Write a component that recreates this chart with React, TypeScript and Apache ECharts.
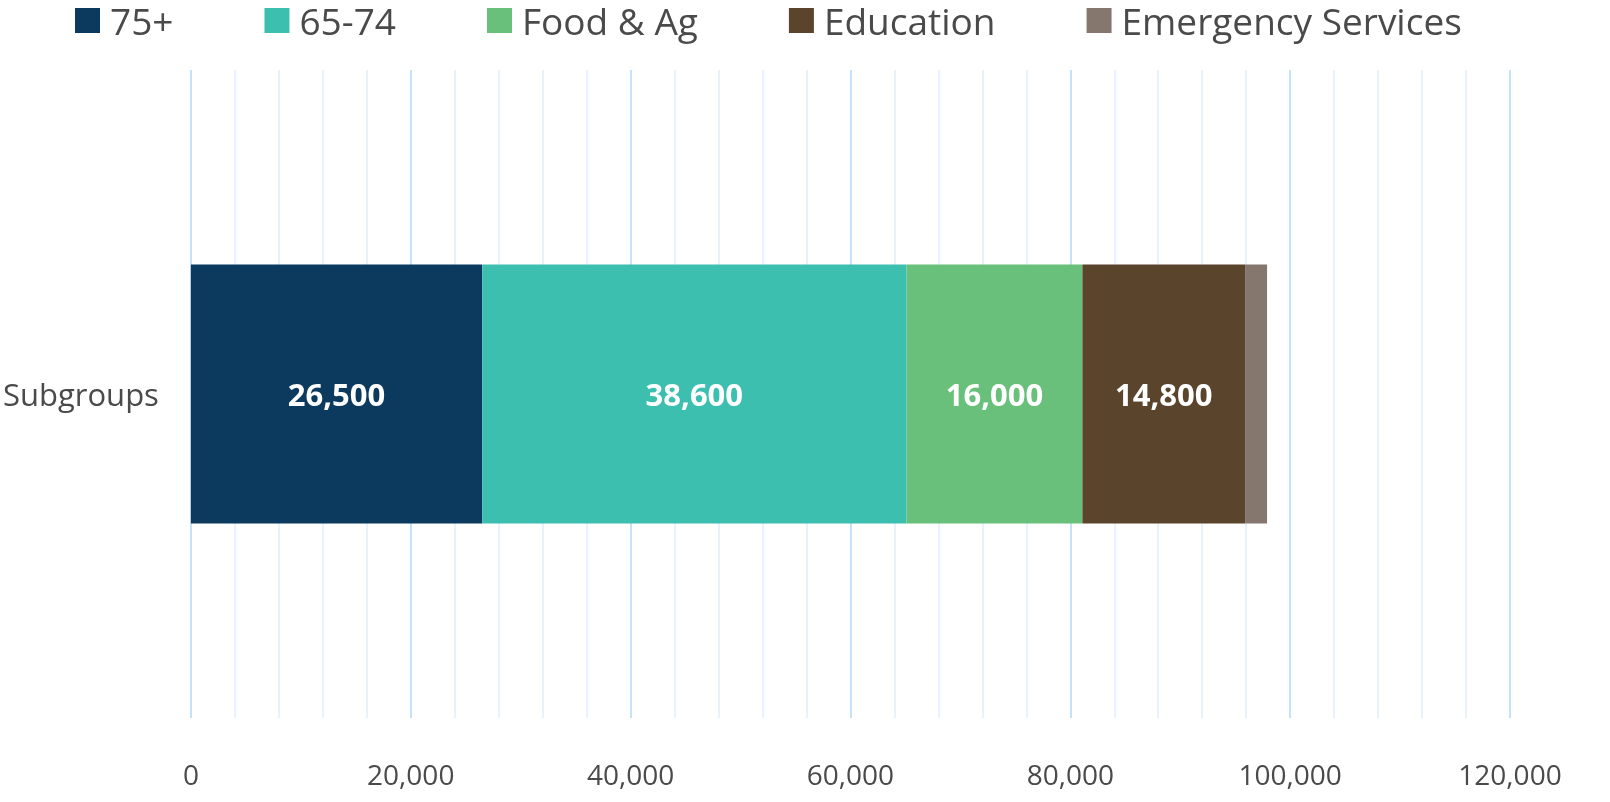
import React, { useEffect, useRef } from "react";
import * as echarts from "echarts";

const categories = ["Subgroups"];
const seriesNames = ["75+", "65-74", "Food & Ag", "Education", "Emergency Services"];
const seriesValues = [26500, 38600, 16000, 14800, 2000];
const seriesColors = ["#0b3a5e", "#3dbfaf", "#68c07b", "#5a452c", "#86776e"];
const showLabel = [true, true, true, true, false];
const xTicks = { min: 0, max: 120000, interval: 20000 };

export default function App() {
  const ref = useRef<HTMLDivElement>(null);
  useEffect(() => {
    if (!ref.current) return;
    const chart = echarts.init(ref.current, null, { renderer: "svg" });
    const font = "'Open Sans', 'Noto Sans', sans-serif";
    chart.setOption({
      animation: false,
      textStyle: { fontFamily: font },
      legend: {
        top: 2,
        left: 75,
        padding: 0,
        itemWidth: 25,
        itemHeight: 25,
        itemGap: 91,
        icon: "rect",
        textStyle: {
          fontSize: 37,
          color: "#4a4a4a",
          fontFamily: font,
          padding: [0, 0, 0, 5],
        },
        data: seriesNames,
      },
      grid: { left: 189, right: 100, top: 70, bottom: 84, containLabel: false },
      xAxis: {
        type: "value",
        min: xTicks.min,
        max: xTicks.max,
        interval: xTicks.interval,
        axisLine: { show: false },
        axisTick: { show: false },
        axisLabel: {
          fontSize: 28,
          color: "#4a4a4a",
          margin: 42,
          fontFamily: font,
          formatter: (v: number) => v.toLocaleString("en-US"),
        },
        splitLine: { show: true, lineStyle: { color: "#c6e2f6", width: 2 } },
        minorTick: { show: false, splitNumber: 5 },
        minorSplitLine: { show: true, lineStyle: { color: "#e7f2fc", width: 2 } },
      },
      yAxis: {
        type: "category",
        data: categories,
        axisLine: { show: false },
        axisTick: { show: false },
        axisLabel: { fontSize: 31, color: "#4a4a4a", margin: 32, fontFamily: font },
      },
      series: seriesNames.map((name, i) => ({
        name,
        type: "bar",
        stack: "total",
        barWidth: "40%",
        data: [seriesValues[i]],
        itemStyle: { color: seriesColors[i] },
        label: {
          show: showLabel[i],
          position: "inside",
          color: "#ffffff",
          fontSize: 31,
          fontWeight: "bold",
          fontFamily: font,
          formatter: (p: any) => Number(p.value).toLocaleString("en-US"),
        },
      })),
    });
    return () => chart.dispose();
  }, []);
  return (
    <div
      ref={ref}
      style={{ position: "fixed", left: 0, top: 0, width: 1610, height: 802 }}
    />
  );
}
